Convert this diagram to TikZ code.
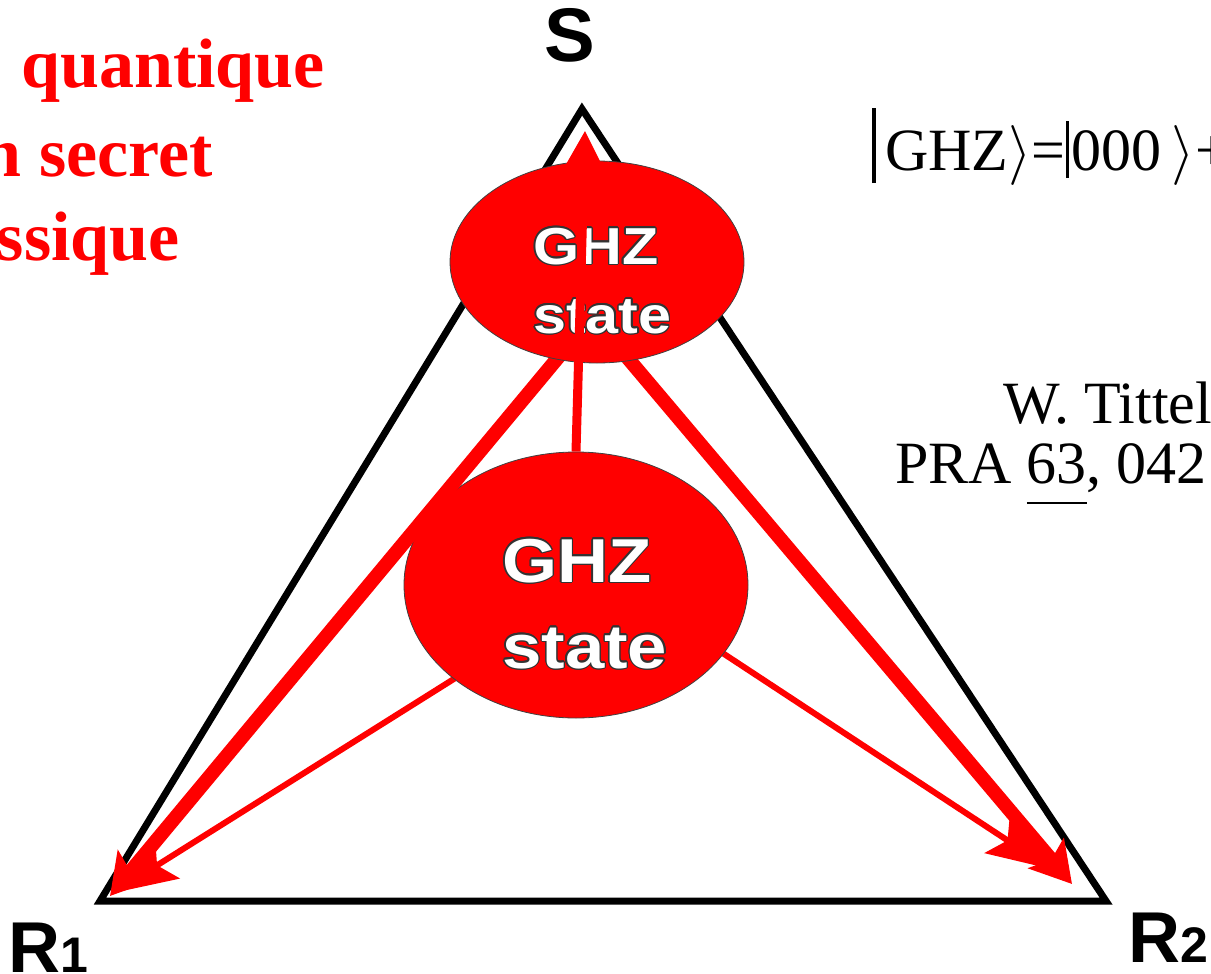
\RequirePackage{fix-cm}
\documentclass[tikz,border=0pt]{standalone}
\usepackage{fontspec}
\setmainfont{Liberation Serif}
\newfontfamily\arialfont{Liberation Sans}
\usepackage{contour}
\contourlength{1.1pt}
\usetikzlibrary{arrows.meta,shapes.geometric}

\definecolor{pptred}{RGB}{255,0,0}

\tikzset{
  tri/.style={line width=7pt, draw=black, line join=miter},
  blob/.style={ellipse, fill=pptred, draw=black!75, line width=0.8pt, inner sep=0pt},
  fatarrow/.style={draw=pptred, line width=14pt,
    -{Stealth[length=40pt, width=46pt, inset=8pt]}},
  slimarrow/.style={draw=pptred, line width=6pt,
    -{Stealth[length=64pt, width=46pt, inset=12pt]}},
  midarrow/.style={draw=pptred, line width=9pt,
    -{Stealth[length=55pt, width=58pt, inset=12pt]}},
  ghztext/.style={inner sep=0pt, anchor=base west, text=white},
  vertex/.style={inner sep=0pt, font=\arialfont\bfseries},
  redtext/.style={inner sep=0pt, anchor=base east, text=pptred,
    font=\bfseries\fontsize{70}{80}\selectfont},
  reftext/.style={inner sep=0pt, anchor=base west,
    font=\fontsize{60}{70}\selectfont},
}
\newcommand{\outlined}[1]{\scalebox{1.14}[1]{\contour{black!80}{#1}}}

\begin{document}
\begin{tikzpicture}[x=1pt, y=-1pt]
  \useasboundingbox (0,0) rectangle (1211,974);
  \clip (0,0) rectangle (1211,974);

  % corners of the triangle
  \coordinate (apex) at (582,109);
  \coordinate (cornerL) at (100,901);
  \coordinate (cornerR) at (1106,901);
  \draw[tri] (apex) -- (cornerL) -- (cornerR) -- cycle;

  % arrow tips and start points
  \coordinate (tipS) at (585,131);
  \coordinate (tipL) at (110,896);
  \coordinate (tipR) at (1072,884);
  \coordinate (tipL2) at (113,893);
  \coordinate (tipR2) at (1051,869);
  \coordinate (startL) at (581,330);
  \coordinate (startR) at (604,330);
  \coordinate (startL2) at (500,650);
  \coordinate (startR2) at (680,625);

  % lighter arrows from the lower state
  \draw[slimarrow] (startL2) -- (tipL2);
  \draw[slimarrow] (startR2) -- (tipR2);

  % lower GHZ state
  \node[blob, minimum width=344pt, minimum height=266pt] (lower) at (576,585) {};

  % heavy arrows from the upper state
  \draw[fatarrow] (startL) -- (tipL);
  \draw[fatarrow] (startR) -- (tipR);

  % upper GHZ state
  \node[blob, minimum width=294pt, minimum height=202pt] (upper) at (597,262) {};

  \node[ghztext, font=\arialfont\bfseries\fontsize{52}{60}\selectfont]
    (upperA) at (533,264) {\outlined{GHZ}};
  \node[ghztext, font=\arialfont\bfseries\fontsize{52}{60}\selectfont]
    (upperB) at (533,333) {\outlined{state}};
  \node[ghztext, font=\arialfont\bfseries\fontsize{62}{70}\selectfont]
    (lowerA) at (502,582) {\outlined{GHZ}};
  \node[ghztext, font=\arialfont\bfseries\fontsize{62}{70}\selectfont]
    (lowerB) at (502,668) {\outlined{state}};

  % arrow from the lower state up to the source
  \draw[midarrow] (lower.north) -- (tipS);

  % vertex labels
  \node[vertex, anchor=base, font=\arialfont\bfseries\fontsize{76}{80}\selectfont]
    (S) at (570,62) {S};
  \node[vertex, anchor=base west] (R1) at (8,972)
    {\fontsize{72}{74}\selectfont R\fontsize{50}{52}\selectfont 1};
  \node[vertex, anchor=base west] (R2) at (1128,962)
    {\fontsize{72}{74}\selectfont R\fontsize{50}{52}\selectfont 2};

  % title on the left
  \node[redtext] (title1) at (325,88) {quantique};
  \node[redtext] (title2) at (213,176) {n secret};
  \node[redtext] (title3) at (180,260) {ssique};

  % state formula and reference
  \node[reftext] (formula) at (872,170)
    {\rule[-13pt]{4pt}{75pt}\hspace{9pt}GHZ$\rangle$=\rule[-8pt]{3pt}{57pt}\hspace{3pt}000\,$\rangle$+};
  \node[reftext] (author) at (1003,423) {W. Tittel};
  \node[reftext] (journal) at (895,483)
    {PRA \rlap{\rule[-21pt]{60pt}{2.5pt}}63, 042};
\end{tikzpicture}
\end{document}
